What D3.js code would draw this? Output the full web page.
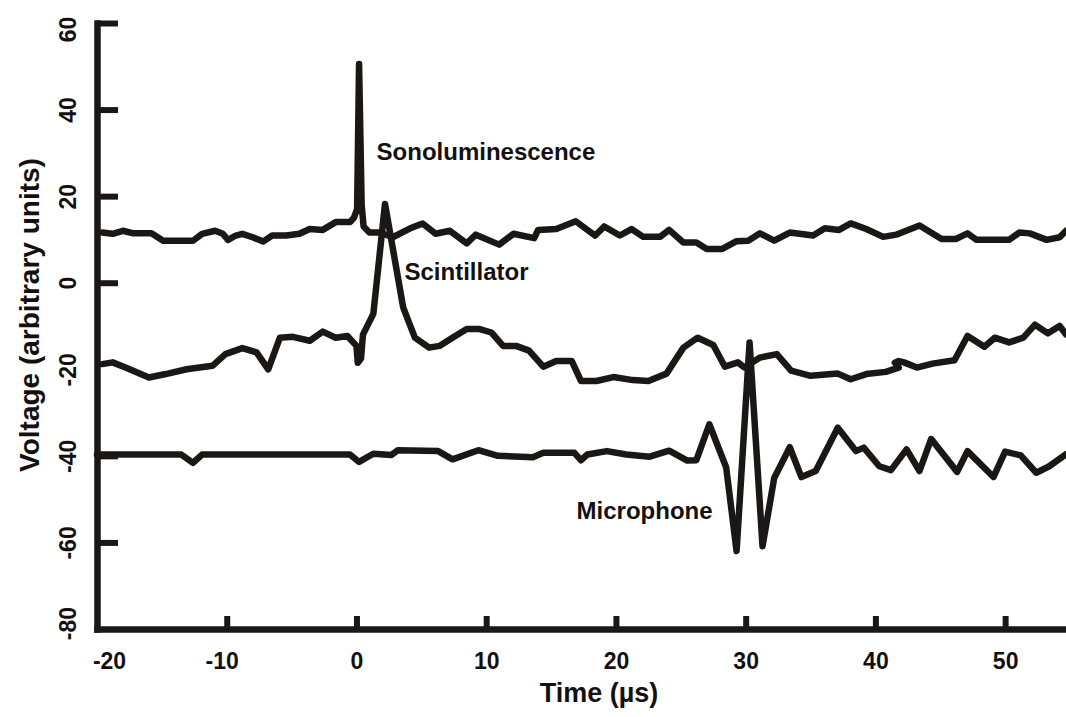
<!DOCTYPE html>
<html>
<head>
<meta charset="utf-8">
<script src="https://cdn.jsdelivr.net/npm/d3@7/dist/d3.min.js"></script>
<style>
  html, body { margin: 0; padding: 0; background: #ffffff; }
  svg { display: block; }
  text { font-family: "Liberation Sans", Arial, sans-serif; font-weight: bold; fill: #141010; }
</style>
</head>
<body>
<svg id="chart" width="1066" height="717"></svg>
<script>
// Axis ticks
const xTicks = [-20, -10, 0, 10, 20, 30, 40, 50];
const yTicks = [-80, -60, -40, -20, 0, 20, 40, 60];

// Sonoluminescence trace (time in µs, voltage in arbitrary units)
const sonoT = [-19.6,-18.8,-18.0,-17.2,-15.8,-14.9,-12.6,-11.9,-10.9,-10.3,-9.9,-9.3,-8.8,-8.0,-7.2,-6.5,-5.4,-4.4,-3.6,-2.6,-1.6,-0.5,-0.2,0.05,0.2,0.4,0.55,1.0,1.8,2.8,4.1,5.1,6.1,7.2,8.5,9.2,11.0,12.1,13.7,14.0,15.4,16.9,18.4,19.1,20.3,21.2,22.1,23.4,24.1,25.2,26.2,27.0,28.2,29.3,30.2,31.1,32.2,33.4,35.2,36.1,37.2,38.1,39.3,40.6,41.6,43.4,45.1,46.2,47.1,47.8,50.3,51.1,51.9,53.2,54.2,54.7];
const sonoV = [11.6,11.3,12.0,11.4,11.4,9.7,9.7,11.3,12.0,11.3,9.9,10.9,11.3,10.5,9.5,10.9,10.9,11.3,12.4,12.2,14.0,14.0,15.0,17.0,50.5,18.0,13.0,11.6,11.6,10.5,12.5,13.7,11.3,12.0,9.1,11.1,8.8,11.3,10.3,12.2,12.4,14.2,10.9,13.0,10.9,12.4,10.6,10.6,12.2,9.3,9.3,7.8,7.8,9.6,9.7,11.4,9.7,11.6,10.9,12.6,12.2,13.7,12.4,10.6,11.1,13.2,10.1,10.1,11.4,9.9,9.9,11.6,11.4,9.9,10.5,12.0];

// Scintillator trace
const scintT = [-19.6,-18.8,-17.8,-16.0,-14.7,-13.1,-11.1,-10.1,-8.8,-7.7,-6.8,-5.9,-4.9,-3.6,-2.6,-1.6,-0.7,0.0,0.1,0.35,0.5,1.3,2.2,3.6,4.5,5.6,6.4,7.4,8.5,9.5,10.4,11.3,12.3,13.3,14.4,15.4,16.6,17.3,18.5,19.8,21.3,22.5,23.9,25.2,26.3,27.5,28.4,29.4,29.9,31.1,32.4,33.5,35.0,37.1,38.1,39.3,40.8,41.8,41.5,41.8,42.2,43.2,44.4,46.1,47.1,48.4,49.2,50.3,51.4,52.3,53.3,54.2,54.7];
const scintV = [-18.8,-18.4,-19.6,-21.9,-21.1,-20.0,-19.2,-16.5,-15.1,-16.1,-20.0,-12.7,-12.5,-13.4,-11.3,-12.7,-12.3,-14.6,-18.5,-17.5,-12.0,-7.2,18.2,-5.7,-12.7,-15.0,-14.6,-12.7,-10.7,-10.7,-11.5,-14.6,-14.6,-15.7,-19.4,-18.1,-18.1,-22.7,-22.7,-21.8,-22.5,-22.7,-21.0,-15.0,-12.7,-14.4,-19.4,-18.4,-19.6,-17.3,-16.5,-20.3,-21.5,-21.0,-22.3,-21.1,-20.6,-19.6,-18.5,-18.1,-18.4,-19.6,-18.7,-17.9,-12.3,-14.8,-12.7,-13.8,-12.7,-9.7,-11.7,-10.0,-12.0];

// Microphone trace
const micT = [-20.0,-13.5,-12.6,-11.9,-0.5,0.2,1.3,2.7,3.2,6.3,7.4,9.4,10.9,13.6,14.4,16.8,17.3,17.8,19.3,20.8,22.6,24.1,25.5,26.2,27.2,28.5,29.3,30.3,31.3,32.2,33.4,34.3,35.4,37.1,38.5,39.1,40.3,41.2,42.4,43.4,44.3,46.3,47.1,49.1,50.0,51.2,52.4,53.4,54.7];
const micV = [-39.7,-39.7,-41.6,-39.7,-39.7,-41.4,-39.5,-39.8,-38.7,-38.9,-40.8,-38.7,-40.0,-40.3,-39.3,-39.3,-41.0,-39.7,-38.9,-39.7,-40.2,-38.8,-41.1,-41.0,-32.7,-42.7,-62.0,-13.8,-60.9,-45.1,-38.0,-44.9,-43.5,-33.5,-38.9,-38.1,-42.4,-43.3,-38.5,-43.5,-36.1,-43.7,-38.9,-44.9,-39.0,-39.9,-43.9,-42.4,-39.6];

// Trace names and where their labels sit (data coordinates)
const seriesNames = ["Sonoluminescence", "Scintillator", "Microphone"];
const labelT = [1.55, 3.7, 27.45];
const labelV = [28.3, 0.6, -54.5];
const labelAnchor = ["start", "start", "end"];

const ink = "#1c1717";
const svg = d3.select("#chart");

const x = d3.scaleLinear().domain([-20, 55]).range([97, 1070]);
const y = d3.scaleLinear().domain([-80, 60]).range([629, 23]);

const series = [
  { t: sonoT, v: sonoV },
  { t: scintT, v: scintV },
  { t: micT, v: micV }
];

const line = d3.line()
  .x(d => x(d[0]))
  .y(d => y(d[1]));

svg.append("g")
  .selectAll("path")
  .data(series)
  .join("path")
  .attr("d", s => line(d3.zip(s.t, s.v)))
  .attr("fill", "none")
  .attr("stroke", ink)
  .attr("stroke-width", 6.5)
  .attr("stroke-linejoin", "round")
  .attr("stroke-linecap", "round");

const plainFormat = d => String(d);

// Y axis with inward ticks and rotated labels
const yAxis = svg.append("g")
  .attr("transform", `translate(${x(-20)},0)`)
  .call(d3.axisLeft(y).tickValues(yTicks).tickSize(-21).tickSizeOuter(0).tickFormat(plainFormat));
yAxis.select(".domain").attr("stroke", ink).attr("stroke-width", 6.5).attr("stroke-linecap", "square");
yAxis.selectAll(".tick line")
  .attr("stroke", ink)
  .attr("stroke-width", 6)
  .attr("display", d => (d === -20 || d === -80) ? "none" : null);
yAxis.selectAll(".tick text")
  .attr("transform", "rotate(-90)")
  .attr("x", d => d === 60 ? -6 : (d === -80 ? 6 : 0))
  .attr("y", -29)
  .attr("dy", "0.35em")
  .attr("text-anchor", "middle")
  .style("font-size", "23px");

// X axis with inward ticks
const xAxis = svg.append("g")
  .attr("transform", `translate(0,${y(-80)})`)
  .call(d3.axisBottom(x).tickValues(xTicks).tickSize(-13).tickSizeOuter(0).tickPadding(24).tickFormat(plainFormat));
xAxis.select(".domain").attr("stroke", ink).attr("stroke-width", 6.5).attr("stroke-linecap", "square");
xAxis.selectAll(".tick line")
  .attr("stroke", ink)
  .attr("stroke-width", 6)
  .attr("display", d => d === -20 ? "none" : null);
xAxis.selectAll(".tick text")
  .style("font-size", "23px")
  .attr("dx", d => d === -20 ? 12 : (d < 0 ? -5 : 0));

// Axis titles
svg.append("text")
  .attr("transform", `translate(39,${315}) rotate(-90)`)
  .attr("text-anchor", "middle")
  .style("font-size", "28px")
  .text("Voltage (arbitrary units)");

svg.append("text")
  .attr("x", 599)
  .attr("y", 702)
  .attr("text-anchor", "middle")
  .style("font-size", "27px")
  .text("Time (µs)");

// Trace labels
svg.append("g")
  .selectAll("text")
  .data(seriesNames)
  .join("text")
  .attr("x", (d, i) => x(labelT[i]))
  .attr("y", (d, i) => y(labelV[i]))
  .attr("text-anchor", (d, i) => labelAnchor[i])
  .style("font-size", "24px")
  .text(d => d);
</script>
</body>
</html>
